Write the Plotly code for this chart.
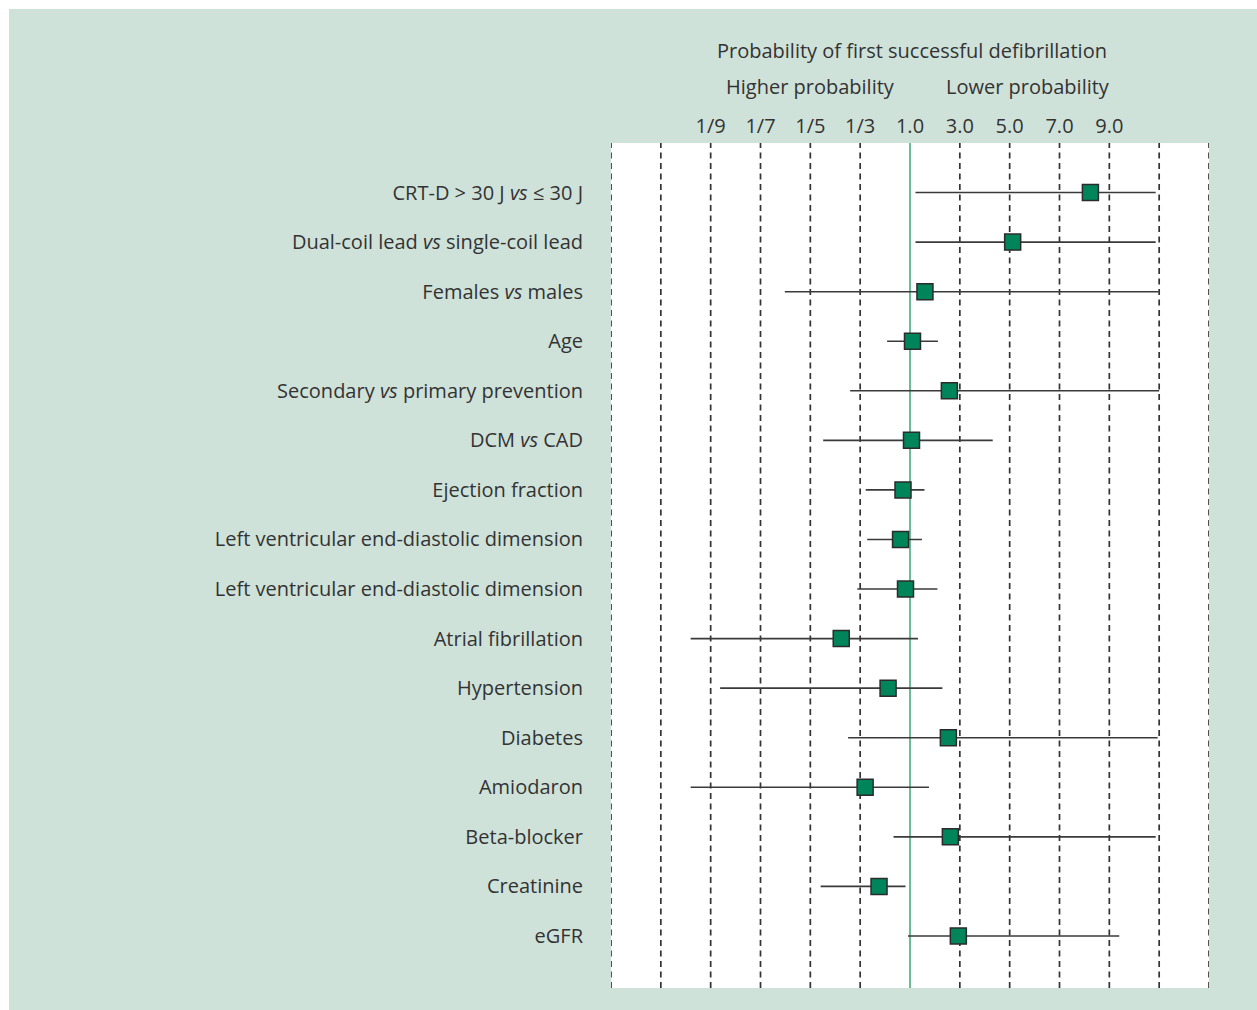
import plotly.graph_objects as go

# ---------------- data ----------------
labels = [
    "CRT-D &gt; 30 J <i>vs</i> ≤ 30 J",
    "Dual-coil lead <i>vs</i> single-coil lead",
    "Females <i>vs</i> males",
    "Age",
    "Secondary <i>vs</i> primary prevention",
    "DCM <i>vs</i> CAD",
    "Ejection fraction",
    "Left ventricular end-diastolic dimension",
    "Left ventricular end-diastolic dimension",
    "Atrial fibrillation",
    "Hypertension",
    "Diabetes",
    "Amiodaron",
    "Beta-blocker",
    "Creatinine",
    "eGFR",
]
# odds ratios
or_est = [8.24, 5.12, 1.60, 1.10, 2.58, 1.06, 0.781, 0.725, 0.847, 0.266, 0.532, 2.54, 0.357, 2.62, 0.446, 2.94]
or_low = [1.22, 1.22, 0.166, 0.521, 0.294, 0.223, 0.360, 0.368, 0.321, 0.102, 0.116, 0.287, 0.102, 0.602, 0.218, 0.926]
or_high = [10.86, 10.86, 10.98, 2.12, 11.0, 4.32, 1.58, 1.48, 2.10, 1.32, 2.30, 10.94, 1.76, 10.86, 0.847, 9.40]

tick_vals = [-4, -3, -2, -1, 0, 1, 2, 3, 4]
tick_text = ["1/9", "1/7", "1/5", "1/3", "1.0", "3.0", "5.0", "7.0", "9.0"]
grid_vals = [-6, -5, -4, -3, -2, -1, 1, 2, 3, 4, 5, 6]

title_text = "Probability of first successful defibrillation"
left_text = "Higher probability"
right_text = "Lower probability"


def to_axis(v):
    # the chart's scale: 1/9 .. 1/3, 1, 3 .. 9 evenly spaced
    return (v - 1) / 2 if v >= 1 else -(1 / v - 1) / 2


est = [to_axis(v) for v in or_est]
low = [to_axis(v) for v in or_low]
high = [to_axis(v) for v in or_high]
rows = list(range(len(labels)))

FONT = "Open Sans"
TXT = "#333333"
BG = "#cfe2da"

fig = go.Figure()
fig.add_trace(go.Scatter(
    x=est, y=rows, mode="markers",
    marker=dict(symbol="square", size=16, color="#00845a",
                line=dict(color="#2b2b2b", width=1.5)),
    error_x=dict(type="data", symmetric=False,
                 array=[h - e for h, e in zip(high, est)],
                 arrayminus=[e - l for e, l in zip(est, low)],
                 color="#3a3a3a", thickness=1.6, width=0),
    showlegend=False, hoverinfo="skip",
))

shapes = []
for g in grid_vals:
    shapes.append(dict(type="line", xref="x", yref="paper", x0=g, x1=g, y0=0, y1=1,
                       line=dict(color="#333333", width=1.7, dash="6px,4.5px"), layer="below"))
shapes.append(dict(type="line", xref="x", yref="paper", x0=0, x1=0, y0=0, y1=1,
                   line=dict(color="#3aa67a", width=1.5), layer="below"))
# white margin strips on top / left of the panel
shapes.append(dict(type="rect", xref="paper", yref="paper", x0=-1.05, x1=-1.0067, y0=-0.1, y1=1.3,
                   fillcolor="white", line=dict(width=0), layer="above"))
shapes.append(dict(type="rect", xref="paper", yref="paper", x0=-1.05, x1=1.2, y0=1.1586, y1=1.3,
                   fillcolor="white", line=dict(width=0), layer="above"))

L, R, T, B = 611, 48, 143, 22
W, H = 1257, 1010
pw, ph = W - L - R, H - T - B


def px_x(x):
    return (x - L) / pw


def px_y(y):
    return (H - B - y) / ph


annotations = [
    dict(text=title_text, x=px_x(911.5), y=px_y(50), xref="paper", yref="paper",
         xanchor="center", yanchor="middle", showarrow=False, font=dict(size=20, color=TXT, family=FONT)),
    dict(text=left_text, x=px_x(810), y=px_y(87), xref="paper", yref="paper",
         xanchor="center", yanchor="middle", showarrow=False, font=dict(size=20, color=TXT, family=FONT)),
    dict(text=right_text, x=px_x(1028), y=px_y(87), xref="paper", yref="paper",
         xanchor="center", yanchor="middle", showarrow=False, font=dict(size=20, color=TXT, family=FONT)),
]

fig.update_layout(
    width=W, height=H, autosize=False,
    margin=dict(l=L, r=R, t=T, b=B, pad=0),
    paper_bgcolor=BG, plot_bgcolor="white",
    font=dict(family=FONT, size=20, color=TXT),
    shapes=shapes, annotations=annotations,
    xaxis=dict(range=[-6, 6], side="top", tickvals=tick_vals, ticktext=tick_text,
               showgrid=False, zeroline=False, showline=False, ticks="",
               ticklabelstandoff=5, tickfont=dict(size=20, color=TXT, family=FONT), fixedrange=True),
    yaxis=dict(range=[16.05, -1], tickvals=rows, ticktext=labels,
               showgrid=False, zeroline=False, showline=False, ticks="",
               ticklabelstandoff=27, tickfont=dict(size=20, color=TXT, family=FONT), fixedrange=True),
)

fig.write_html("out.html")
